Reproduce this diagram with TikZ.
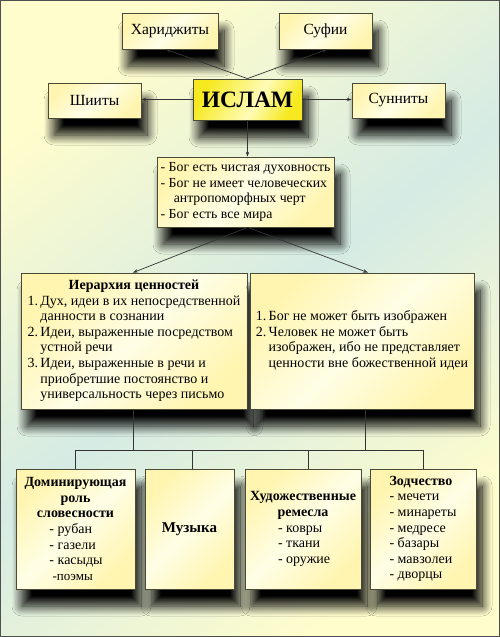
\documentclass[tikz,border=0pt]{standalone}
\usepackage{fontspec}
\setmainfont{Liberation Serif}
\usetikzlibrary{arrows.meta,shadows.blur}
\definecolor{bgY}{HTML}{FFFDCC}
\definecolor{bgG}{HTML}{D5EBE4}
\definecolor{bxA}{HTML}{FFF5B0}
\definecolor{bxB}{HTML}{FFFEE6}
\definecolor{isA}{HTML}{F6E920}
\definecolor{isB}{HTML}{FFFCB8}
\definecolor{edgec}{HTML}{4A4A38}
\definecolor{linec}{HTML}{333333}
\definecolor{framec}{HTML}{505050}
\pgfdeclarehorizontalshading{bgshade}{100bp}{color(0bp)=(bgY); color(25bp)=(bgY); color(50bp)=(bgG); color(75bp)=(bgY); color(100bp)=(bgY)}
\pgfdeclarehorizontalshading{boxshade}{100bp}{color(0bp)=(bxA); color(25bp)=(bxA); color(50bp)=(bxB); color(75bp)=(bxA); color(100bp)=(bxA)}
\pgfdeclarehorizontalshading{islshade}{100bp}{color(0bp)=(isA); color(25bp)=(isA); color(55bp)=(isB); color(75bp)=(isA); color(100bp)=(isA)}
\tikzset{
  box/.style={draw=edgec, line width=0.8pt, shading=boxshade, shading angle=-45,
    inner sep=0pt, text=black,
    blur shadow={shadow xshift=6pt, shadow yshift=-17pt, shadow blur radius=10pt, shadow blur steps=16, shadow opacity=100}},
  conn/.style={draw=linec, line width=0.7pt},
  arr/.style={conn, -{Stealth[length=5pt,width=3.5pt]}},
  topfont/.style={font=\fontsize{15.5}{18}\selectfont},
  bodyfont/.style={font=\fontsize{14}{15.6}\selectfont},
}
\begin{document}
\begin{tikzpicture}[x=1pt,y=-1pt]
\useasboundingbox (0,0) rectangle (500,637);
\shade[shading=bgshade, shading angle=-52] (0,0) rectangle (500,637);
\draw[framec, line width=1.2pt] (0.6,0.6) rectangle (499.4,636.4);

% top row
\node[box, topfont, minimum width=96pt, minimum height=36pt] (har) at (170,31) {Хариджиты};
\node[box, topfont, minimum width=93pt, minimum height=36pt] (suf) at (325.5,31) {Суфии};
\node[box, topfont, minimum width=93pt, minimum height=35pt] (shi) at (94.5,100.5) {Шииты};
\node[box, topfont, minimum width=93pt, minimum height=35pt] (sun) at (398.5,100.5) {Сунниты};
\node[box, shading=islshade, shading angle=-30, minimum width=109pt, minimum height=41pt,
  font=\fontsize{23.5}{26}\selectfont\bfseries] (islam) at (247.5,99.5) {ИСЛАМ};

% god box
\node[box, font=\fontsize{13.8}{15.8}\selectfont, minimum width=177pt, minimum height=70pt, align=left] (god) at (245.5,192)
  {- Бог есть чистая духовность\\- Бог не имеет человеческих\\\hspace*{0.95em}антропоморфных черт\\- Бог есть все мира};

% middle boxes
\node[box, bodyfont, minimum width=226pt, minimum height=136pt] (hier) at (134,341)
  {\begin{tabular}{@{}l@{\,}l@{}}
   \multicolumn{2}{c}{\textbf{Иерархия ценностей}}\\
   1. & Дух, идеи в их непосредственной\\
      & данности в сознании\\
   2. & Идеи, выраженные посредством\\
      & устной речи\\
   3. & Идеи, выраженные в речи и\\
      & приобретшие постоянство и\\
      & универсальность через письмо
   \end{tabular}};
\node[box, bodyfont, minimum width=224pt, minimum height=136pt] (img) at (362,341)
  {\begin{tabular}{@{}l@{\,}l@{}}
   1. & Бог не может быть изображен\\
   2. & Человек не может быть\\
      & изображен, ибо не представляет\\
      & ценности вне божественной идеи
   \end{tabular}};

% bottom boxes
\node[box, bodyfont, minimum width=119pt, minimum height=120pt, align=center] (lit) at (75.5,529)
  {\textbf{Доминирующая}\\\textbf{роль}\\\textbf{словесности}\\
   \makebox[52pt][l]{- рубан}\\\makebox[52pt][l]{- газели}\\\makebox[52pt][l]{- касыды}\\
   \makebox[52pt][l]{\hspace*{3pt}{\fontsize{13}{15.6}\selectfont -поэмы}}};
\node[box, minimum width=89pt, minimum height=120pt, font=\fontsize{15}{17}\selectfont\bfseries] (mus) at (189.5,529) {Музыка};
\node[box, bodyfont, minimum width=116pt, minimum height=120pt, align=center] (craft) at (303,529)
  {\textbf{Художественные}\\\textbf{ремесла}\\
   \makebox[50pt][l]{- ковры}\\\makebox[50pt][l]{- ткани}\\\makebox[50pt][l]{- оружие}};
\node[box, bodyfont, minimum width=106pt, minimum height=120pt, align=left] (arch) at (423,529)
  {\textbf{Зодчество}\\- мечети\\- минареты\\- медресе\\- базары\\- мавзолеи\\- дворцы};

% connectors
\draw[arr] (islam.north) -- ([xshift=-4pt]har.south);
\draw[arr] (islam.north) -- ([xshift=1.5pt]suf.south);
\draw[arr] (islam.west) -- (islam.west -| shi.east);
\draw[arr] (islam.east) -- (islam.east -| sun.west);
\draw[arr] (islam.south) -- (islam.south |- god.north);
\draw[arr] ([xshift=2pt]god.south) -- ([xshift=-1pt]hier.north);
\draw[arr] ([xshift=2pt]god.south) -- ([xshift=6pt]img.north);

\coordinate (bus) at (0,450);
\draw[conn] ([xshift=-1pt]hier.south) -- ([xshift=-1pt]hier.south |- bus);
\draw[conn] ([xshift=3pt]img.south) -- ([xshift=3pt]img.south |- bus);
\draw[conn] (lit.north |- bus) -- (arch.north |- bus);
\draw[conn] (lit.north |- bus) -- (lit.north);
\draw[conn] ([xshift=2.5pt]mus.north |- bus) -- ([xshift=2.5pt]mus.north);
\draw[conn] ([xshift=5pt]craft.north |- bus) -- ([xshift=5pt]craft.north);
\draw[conn] (arch.north |- bus) -- (arch.north);
\end{tikzpicture}
\end{document}
